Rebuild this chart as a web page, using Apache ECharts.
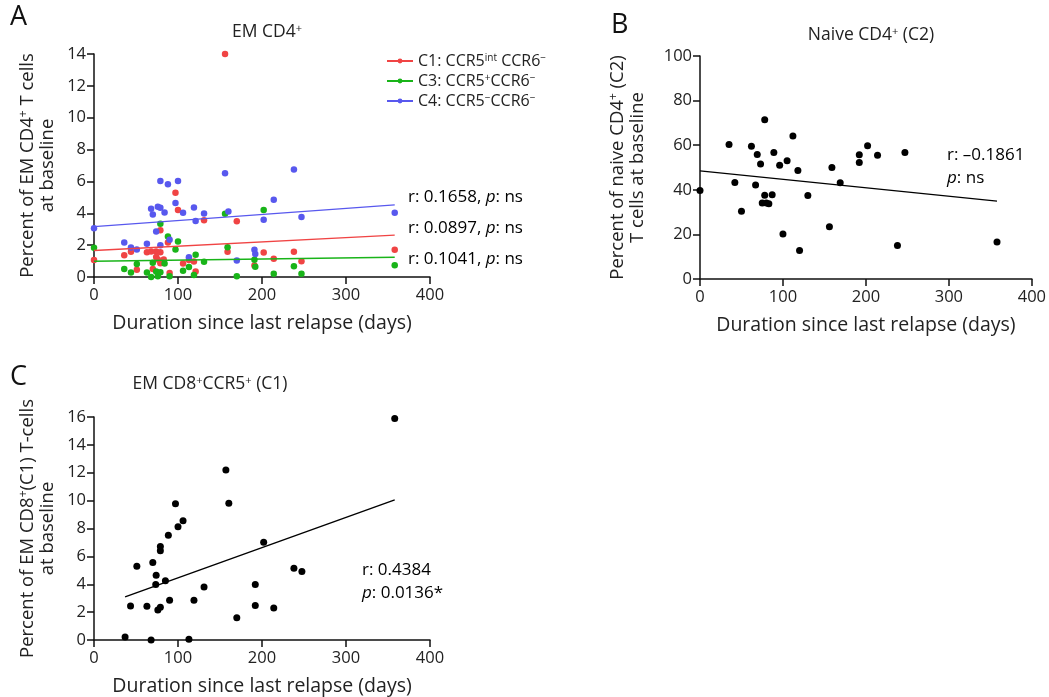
<!DOCTYPE html>
<html><head><meta charset="utf-8">
<script src="https://cdn.jsdelivr.net/npm/echarts@6/dist/echarts.min.js"></script>
<style>html,body{margin:0;padding:0;background:#fff}#c{width:1049px;height:697px}</style>
</head><body><div id="c"></div>
<script>
// ---------- Panel A: EM CD4+ subsets ----------
const aC1Days = [0,36,44,51,63,68,70,74,74,76,79,79,79,83,88,90,97,100,106,113,119,121,131,156,159,170,191,202,214,238,247,358];
const aC1Pct  = [1.07,1.37,1.58,0.46,1.56,1.6,0.5,1.6,1.26,1.1,1.56,0.86,2.93,1.1,2.17,0.25,5.29,4.2,0.84,1.07,0.97,0.34,3.56,14.0,1.58,3.5,0.72,1.54,1.14,1.58,0.99,1.71];
const aC3Days = [0,36,44,51,63,68,70,74,76,79,79,84,88,90,97,100,106,113,119,121,131,156,159,170,191,192,202,214,238,247,358];
const aC3Pct  = [1.83,0.5,0.29,0.82,0.29,0,0.89,0.34,0.04,0.3,3.35,0.84,2.55,0.04,1.73,2.23,0.4,0.63,0.13,1.39,0.95,3.97,1.87,0.04,1.08,0.65,4.2,0.21,0.67,0.21,0.73];
const aC4Days = [0,36,44,51,63,68,70,74,76,79,79,79,84,88,90,97,100,106,113,119,121,131,156,160,170,191,192,202,214,238,247,358];
const aC4Pct  = [3.06,2.17,1.85,1.72,2.09,4.28,3.92,2.85,4.41,4.34,6.03,2.0,4.05,5.82,2.34,4.64,6.03,4.03,1.24,4.37,3.52,3.99,6.52,4.11,1.03,1.71,1.45,3.6,4.85,6.75,3.77,4.03];
const aFitC1 = [[0,1.66],[358,2.63]];
const aFitC3 = [[0,0.99],[358,1.24]];
const aFitC4 = [[0,3.16],[358,4.53]];
const aStats = ['0.1658','0.0897','0.1041'];

// ---------- Panel B: Naive CD4+ (C2) ----------
const bDays = [0,35,42,50,62,67,69,73,75,78,78,80,83,87,89,96,100,105,112,118,120,130,156,159,169,192,192,202,214,238,247,358];
const bPct  = [39.7,60.3,43.3,30.4,59.5,42.1,55.8,51.6,34.1,71.4,37.6,34.1,33.8,37.8,56.7,51.0,20.2,53.0,64.1,48.7,12.8,37.5,23.4,50.0,43.2,55.7,52.2,59.7,55.5,15.0,56.7,16.6];
const bFit  = [[0,48.5],[358,34.9]];

// ---------- Panel C: EM CD8+CCR5+ (C1) ----------
const cDays = [37,43.5,51,63,68,70,73.5,74,76,79,79,79,85,88.5,90,97,100,106,113,119,131,157,160.5,170,192,192,202,214,238,247.5,358];
const cPct  = [0.22,2.44,5.29,2.42,0,5.56,3.98,4.65,2.16,2.35,6.7,6.4,4.26,7.52,2.85,9.77,8.12,8.55,0.05,2.85,3.81,12.2,9.82,1.6,3.98,2.47,7.02,2.3,5.15,4.91,15.9];
const cFit  = [[37,3.09],[358,10.06]];

const xTicks = [0,100,200,300,400];

const FONT = '"Open Sans", "Noto Sans", sans-serif';
const RED = '#f04444', GREEN = '#19b419', BLUE = '#5858ee';
const SUP = {fontSize: 11, verticalAlign: 'top', fontFamily: FONT, color: '#222'};
const ITAL = {fontStyle: 'italic', fontFamily: FONT, fontSize: 17, color:'#222'};
const NORM = {fontFamily: FONT, fontSize: 17, color:'#222'};

const zip = (xs, ys) => xs.map((x, i) => [x, ys[i]]);

function xAx(gi) {
  return {
    type: 'value', gridIndex: gi, min: xTicks[0], max: xTicks[xTicks.length-1], interval: 100,
    axisLine: {show: true, onZero: false, lineStyle: {color: '#111', width: 1.5}},
    axisTick: {show: true, length: 7, lineStyle: {color: '#111', width: 1.5}},
    splitLine: {show: false},
    axisLabel: {fontFamily: FONT, fontSize: 16.5, color: '#222', margin: 10},
    name: 'Duration since last relapse (days)', nameLocation: 'middle', nameGap: 36,
    nameTextStyle: {fontFamily: FONT, fontSize: 19.5, color: '#222'}
  };
}
function yAx(gi, max, interval, name, gap) {
  return {
    type: 'value', gridIndex: gi, min: 0, max: max, interval: interval,
    axisLine: {show: true, onZero: false, lineStyle: {color: '#111', width: 1.5}},
    axisTick: {show: true, length: 7, lineStyle: {color: '#111', width: 1.5}},
    splitLine: {show: false},
    axisLabel: {fontFamily: FONT, fontSize: 16.5, color: '#222', margin: 8},
    name: name, nameLocation: 'middle', nameGap: gap, nameRotate: 90,
    nameTextStyle: {fontFamily: FONT, fontSize: 18.5, color: '#222', lineHeight: 20,
      rich: {sup: Object.assign({}, SUP, {fontSize: 12})}}
  };
}

const chart = echarts.init(document.getElementById('c'), null, {renderer: 'canvas'});

const legendNames = {
  C1: 'C1: CCR5{sup|int} CCR6{sup|−}',
  C3: 'C3: CCR5{sup|+}CCR6{sup|−}',
  C4: 'C4: CCR5{sup|−}CCR6{sup|−}'
};

const titleStyle = {fontFamily: FONT, fontSize: 17.5, fontWeight: 'normal', color: '#222', rich: {sup: SUP}};

const option = {
  backgroundColor: '#fff',
  animation: false,
  title: [
    {text: 'EM CD4{sup|+}', left: 262, top: 18, textAlign: 'center', textStyle: titleStyle},
    {text: 'Naive CD4{sup|+} (C2)', left: 866, top: 21, textAlign: 'center', textStyle: titleStyle},
    {text: 'EM CD8{sup|+}CCR5{sup|+} (C1)', left: 205, top: 370, textAlign: 'center', textStyle: titleStyle}
  ],
  legend: {
    data: ['C1', 'C3', 'C4'], orient: 'vertical', left: 386, top: 53, padding: 0,
    itemWidth: 26, itemHeight: 6, itemGap: 4,
    formatter: n => legendNames[n],
    textStyle: {fontFamily: FONT, fontSize: 16, color: '#222', rich: {sup: Object.assign({}, SUP, {fontSize: 10})}}
  },
  grid: [
    {left: 94, top: 54, width: 336, height: 223},
    {left: 700, top: 56, width: 336, height: 223},
    {left: 94, top: 417, width: 336, height: 223}
  ],
  xAxis: [xAx(0), xAx(1), xAx(2)],
  yAxis: [
    yAx(0, 14, 2, 'Percent of EM CD4{sup|+} T cells\nat baseline', 36),
    yAx(1, 100, 20, 'Percent of naive CD4{sup|+} (C2)\nT cells at baseline', 52),
    yAx(2, 16, 2, 'Percent of EM CD8{sup|+}(C1) T-cells\nat baseline', 36)
  ],
  series: [
    {type: 'scatter', name: 'C1 pts', xAxisIndex: 0, yAxisIndex: 0, data: zip(aC1Days, aC1Pct), symbolSize: 6.5, itemStyle: {color: RED, opacity: 1}},
    {type: 'scatter', name: 'C3 pts', xAxisIndex: 0, yAxisIndex: 0, data: zip(aC3Days, aC3Pct), symbolSize: 6.5, itemStyle: {color: GREEN, opacity: 1}},
    {type: 'scatter', name: 'C4 pts', xAxisIndex: 0, yAxisIndex: 0, data: zip(aC4Days, aC4Pct), symbolSize: 6.5, itemStyle: {color: BLUE, opacity: 1}},
    {type: 'line', name: 'C1', xAxisIndex: 0, yAxisIndex: 0, data: aFitC1, showSymbol: false, symbol: 'circle', symbolSize: 6, lineStyle: {color: RED, width: 1.4}, itemStyle: {color: RED}},
    {type: 'line', name: 'C3', xAxisIndex: 0, yAxisIndex: 0, data: aFitC3, showSymbol: false, symbol: 'circle', symbolSize: 6, lineStyle: {color: GREEN, width: 1.4}, itemStyle: {color: GREEN}},
    {type: 'line', name: 'C4', xAxisIndex: 0, yAxisIndex: 0, data: aFitC4, showSymbol: false, symbol: 'circle', symbolSize: 6, lineStyle: {color: BLUE, width: 1.4}, itemStyle: {color: BLUE}},
    {type: 'scatter', name: 'B pts', xAxisIndex: 1, yAxisIndex: 1, data: zip(bDays, bPct), symbolSize: 7, itemStyle: {color: '#000', opacity: 1}},
    {type: 'line', name: 'B fit', xAxisIndex: 1, yAxisIndex: 1, data: bFit, showSymbol: false, lineStyle: {color: '#000', width: 1.4}},
    {type: 'scatter', name: 'C pts', xAxisIndex: 2, yAxisIndex: 2, data: zip(cDays, cPct), symbolSize: 7, itemStyle: {color: '#000', opacity: 1}},
    {type: 'line', name: 'C fit', xAxisIndex: 2, yAxisIndex: 2, data: cFit, showSymbol: false, lineStyle: {color: '#000', width: 1.4}}
  ],
  graphic: [
    {type: 'text', left: 10, top: 4, style: {text: 'A', font: '27px ' + FONT, fill: '#111'}},
    {type: 'text', left: 611, top: 12, style: {text: 'B', font: '27px ' + FONT, fill: '#111'}},
    {type: 'text', left: 10, top: 364, style: {text: 'C', font: '27px ' + FONT, fill: '#111'}},
    {type: 'text', left: 408, top: 189, style: {text: '{n|r: ' + aStats[0] + ', }{i|p}{n|: ns}', rich: {n: NORM, i: ITAL}}},
    {type: 'text', left: 408, top: 220, style: {text: '{n|r: ' + aStats[1] + ', }{i|p}{n|: ns}', rich: {n: NORM, i: ITAL}}},
    {type: 'text', left: 408, top: 251, style: {text: '{n|r: ' + aStats[2] + ', }{i|p}{n|: ns}', rich: {n: NORM, i: ITAL}}},
    {type: 'text', left: 947, top: 147, style: {text: '{n|r: –0.1861}\n{i|p}{n|: ns}', rich: {n: Object.assign({lineHeight: 23}, NORM), i: Object.assign({lineHeight: 23}, ITAL)}}},
    {type: 'text', left: 362, top: 562, style: {text: '{n|r: 0.4384}\n{i|p}{n|: 0.0136*}', rich: {n: Object.assign({lineHeight: 23}, NORM), i: Object.assign({lineHeight: 23}, ITAL)}}}
  ]
};
chart.setOption(option);
</script>
</body></html>
